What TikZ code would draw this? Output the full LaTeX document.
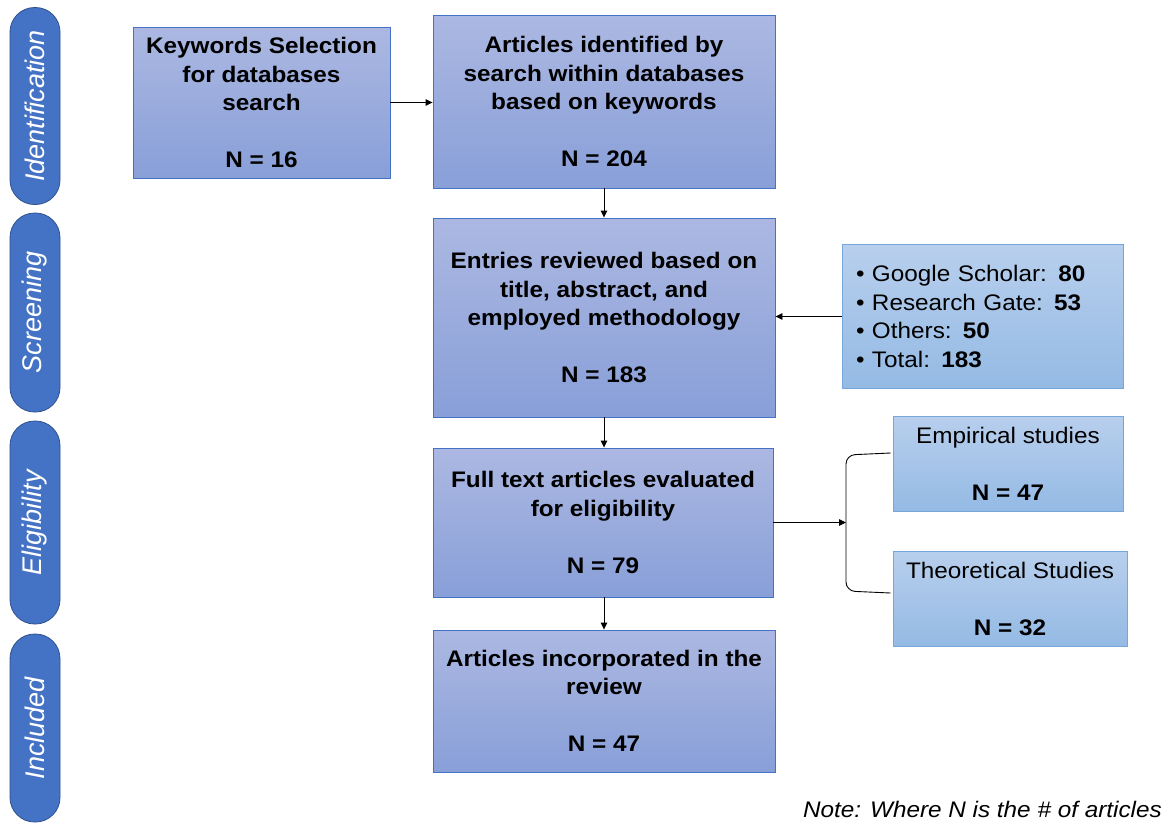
\documentclass[tikz,border=0pt]{standalone}
\usepackage{fontspec}
\setmainfont{Liberation Sans}
\newfontfamily\boxfont[FakeStretch=1.08]{Liberation Sans}
\usetikzlibrary{arrows.meta}
\definecolor{mtop}{RGB}{172,184,226}
\definecolor{mbot}{RGB}{136,159,216}
\definecolor{mborder}{RGB}{68,114,196}
\definecolor{stop}{RGB}{184,207,237}
\definecolor{sbot}{RGB}{148,186,228}
\definecolor{sborder}{RGB}{118,166,220}
\definecolor{pillfill}{RGB}{68,114,196}
\definecolor{pillborder}{RGB}{47,82,143}
\begin{document}
\begin{tikzpicture}[x=1pt,y=-1pt,
  mainbox/.style={draw=mborder, line width=0.9pt, top color=mtop, bottom color=mbot,
    inner sep=0pt, align=center, font=\boxfont\bfseries\fontsize{22.5}{28.5}\selectfont},
  sidebox/.style={draw=sborder, line width=0.9pt, top color=stop, bottom color=sbot,
    inner sep=0pt, align=center, font=\boxfont\fontsize{22.5}{28.5}\selectfont},
  sz/.style 2 args={minimum width=#1, minimum height=#2},
  phase/.style={draw=pillborder, line width=0.8pt, fill=pillfill, rounded corners=24.5pt,
    minimum height=50, inner sep=0pt, rotate=90, text=white,
    font=\itshape\fontsize{27}{30}\selectfont},
  arr/.style={line width=0.9pt, -{Triangle[length=7pt,width=6.5pt]}},
  link/.style={line width=0.9pt}
]
\useasboundingbox (0,0) rectangle (1162,823);
\fill[white] (0,0) rectangle (1162,823);

% phase labels
\node[phase, minimum width=197] (pid) at (35,106) {Identification};
\node[phase, minimum width=199] (psc) at (35,312.5) {Screening};
\node[phase, minimum width=203] (pel) at (35,522.5) {Eligibility};
\node[phase, minimum width=188] (pin) at (35,728) {Included};

% main boxes
\node[mainbox, sz={257}{151}] (kw) at (261.5,102.5)
  {Keywords Selection\\for databases\\search\\[28.5pt]N = 16};
\node[mainbox, sz={342}{173}] (ident) at (604,101.5)
  {Articles identified by\\search within databases\\based on keywords\\[28.5pt]N = 204};
\node[mainbox, sz={342}{199}] (entries) at (604,317.5)
  {Entries reviewed based on\\title, abstract, and\\employed methodology\\[28.5pt]N = 183};
\node[mainbox, sz={340}{149}] (full) at (603,522.5)
  {Full text articles evaluated\\for eligibility\\[28.5pt]N = 79};
\node[mainbox, sz={342}{142}] (incl) at (604,701)
  {Articles incorporated in the\\review\\[28.5pt]N = 47};

% side boxes
\node[sidebox, sz={281}{144}, align=left, text width=253, inner xsep=14pt] (src) at (982.5,316.5)
  {\makebox[16pt][l]{\textbullet}Google Scholar: \textbf{80}\\
   \makebox[16pt][l]{\textbullet}Research Gate: \textbf{53}\\
   \makebox[16pt][l]{\textbullet}Others: \textbf{50}\\
   \makebox[16pt][l]{\textbullet}Total: \textbf{183}};
\node[sidebox, sz={230}{95}] (emp) at (1008,463.5)
  {Empirical studies\\[28.5pt]\textbf{N = 47}};
\node[sidebox, sz={234}{95}] (theo) at (1010,598.5)
  {Theoretical Studies\\[28.5pt]\textbf{N = 32}};

% connectors
\draw[arr] (kw.east) -- (kw.east -| ident.west);
\draw[arr] (ident.south) -- (entries.north);
\draw[arr] (entries.south) -- (entries.south |- full.north);
\draw[arr] (full.south -| incl.north) -- (incl.north);
\draw[arr] (src.west) -- (src.west -| entries.east);
\coordinate (br) at (846,524);
\draw[arr] (full.east) -- (full.east -| br);
\draw[link, rounded corners=9pt] ([xshift=-2pt,yshift=10.5pt]emp.west) -- (846,455) -- (846,591) -- ([xshift=-2pt,yshift=5.5pt]theo.west);

% note
\node[anchor=base east, inner sep=0pt, font=\boxfont\itshape\fontsize{22.5}{27}\selectfont] (note) at (1162,817)
  {Note: Where N is the \# of articles};
\end{tikzpicture}
\end{document}
